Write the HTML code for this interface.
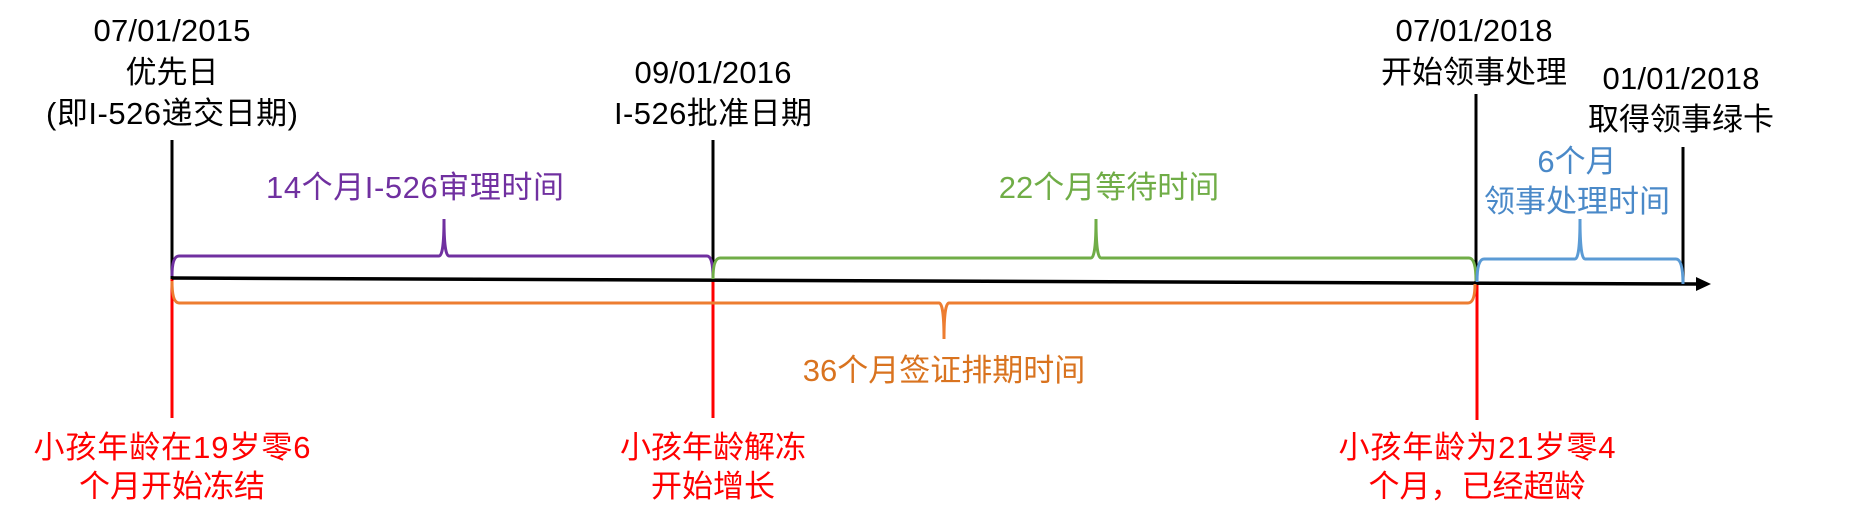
<!DOCTYPE html>
<html><head><meta charset="utf-8"><style>
html,body{margin:0;padding:0;background:#fff;width:1855px;height:525px;overflow:hidden}
text{font-family:"Liberation Sans","Noto Sans CJK SC",sans-serif;font-size:31px;text-anchor:middle}
</style></head><body>
<svg width="1855" height="525" viewBox="0 0 1855 525" xmlns="http://www.w3.org/2000/svg">
<g fill="none" stroke-width="3">
<line x1="172" y1="279" x2="172" y2="418" stroke="#ff0000"/>
<line x1="713" y1="281" x2="713" y2="418" stroke="#ff0000"/>
<line x1="1477" y1="283" x2="1477" y2="420" stroke="#ff0000"/>
<line x1="172" y1="140" x2="172" y2="279" stroke="#000"/>
<line x1="713" y1="140" x2="713" y2="281" stroke="#000"/>
<line x1="1476" y1="94" x2="1476" y2="283" stroke="#000"/>
<line x1="1683" y1="147" x2="1683" y2="285" stroke="#000"/>
<line x1="172" y1="278" x2="1698" y2="284" stroke="#000" stroke-width="3.5"/>
<path d="M172,276 Q172,256 179,256 L439,256 Q444,256 444,219 Q444,256 449,256 L707,256 Q713,256 713,278" stroke="#7030a0"/>
<path d="M713,279 Q713,258 720,258 L1091,258 Q1096,258 1096,219 Q1096,258 1101,258 L1469,258 Q1476,258 1476,281" stroke="#70ad47"/>
<path d="M1477,282 Q1477,259 1484,259 L1575,259 Q1580,259 1580,219 Q1580,259 1585,259 L1676,259 Q1683,259 1683,284" stroke="#5b9bd5"/>
<path d="M172,281 Q172,303 179,303 L939,303 Q944,303 944,339 Q944,303 949,303 L1468,303 Q1475,303 1475,284" stroke="#ed7d31"/>
</g>
<polygon points="1696,277 1711,284 1696,291" fill="#000"/>
<text x="172" y="41" textLength="157">07/01/2015</text>
<text x="172" y="83">优先日</text>
<text x="172" y="124" textLength="252">(即I-526递交日期)</text>
<text x="713" y="83" textLength="157">09/01/2016</text>
<text x="713" y="124" textLength="198">I-526批准日期</text>
<text x="1474" y="41" textLength="157">07/01/2018</text>
<text x="1474" y="83">开始领事处理</text>
<text x="1681" y="89" textLength="157">01/01/2018</text>
<text x="1681" y="130">取得领事绿卡</text>
<text x="415" y="198" fill="#7030a0" textLength="298">14个月I-526审理时间</text>
<text x="1109" y="198" fill="#70ad47">22个月等待时间</text>
<text x="1577" y="172" fill="#4a89c8">6个月</text>
<text x="1577" y="212" fill="#4a89c8">领事处理时间</text>
<text x="944" y="381" fill="#d9731f">36个月签证排期时间</text>
<text x="172" y="458" fill="#ff0000" textLength="277">小孩年龄在19岁零6</text>
<text x="172" y="497" fill="#ff0000">个月开始冻结</text>
<text x="713" y="458" fill="#ff0000">小孩年龄解冻</text>
<text x="713" y="497" fill="#ff0000">开始增长</text>
<text x="1477" y="458" fill="#ff0000" textLength="277">小孩年龄为21岁零4</text>
<text x="1477" y="497" fill="#ff0000">个月，已经超龄</text>
</svg>
</body></html>
